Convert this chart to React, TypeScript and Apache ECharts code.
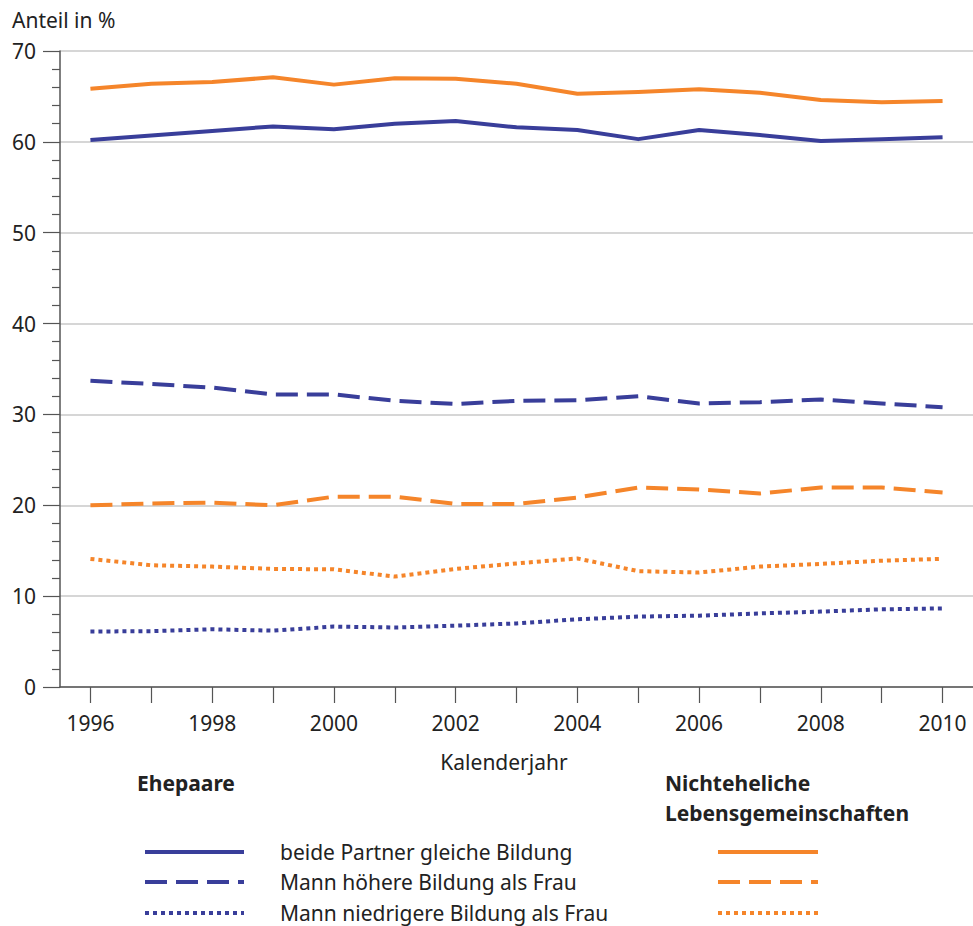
import React, { useEffect, useRef } from "react";
import * as echarts from "echarts";

const years = ["1996","1997","1998","1999","2000","2001","2002","2003","2004","2005","2006","2007","2008","2009","2010"];
const eheGleich = [60.2, 60.7, 61.2, 61.7, 61.4, 62.0, 62.3, 61.6, 61.3, 60.3, 61.3, 60.75, 60.1, 60.3, 60.5];
const eheHoeher = [33.7, 33.35, 32.95, 32.2, 32.2, 31.5, 31.15, 31.5, 31.55, 32.0, 31.2, 31.35, 31.65, 31.2, 30.8];
const eheNiedriger = [6.1, 6.15, 6.35, 6.2, 6.65, 6.55, 6.75, 7.0, 7.45, 7.75, 7.85, 8.1, 8.3, 8.55, 8.65];
const nelGleich = [65.85, 66.4, 66.6, 67.1, 66.3, 67.0, 66.95, 66.4, 65.3, 65.5, 65.8, 65.4, 64.6, 64.35, 64.5];
const nelHoeher = [20.0, 20.2, 20.3, 20.0, 20.95, 20.95, 20.15, 20.15, 20.85, 21.95, 21.75, 21.3, 21.95, 21.95, 21.4];
const nelNiedriger = [14.1, 13.4, 13.25, 13.0, 12.95, 12.15, 13.0, 13.6, 14.15, 12.75, 12.6, 13.25, 13.55, 13.9, 14.1];
const legendLabels = ["beide Partner gleiche Bildung", "Mann höhere Bildung als Frau", "Mann niedrigere Bildung als Frau"];

const BLUE = "#393e9a";
const ORANGE = "#f5852a";
const FONT = "'Noto Sans', 'Open Sans', sans-serif";
const FS = 21;
const DASH = [22, 9];
const DOT = [4, 4];

export default function App() {
  const ref = useRef<HTMLDivElement>(null);
  useEffect(() => {
    if (!ref.current) return;
    const chart = echarts.init(ref.current, null, { renderer: "svg" });
    const mk = (name: string, data: number[], color: string, dash: any) => ({
      name,
      type: "line",
      data,
      symbol: "none",
      lineStyle: { color, width: 4, type: dash, cap: "butt", join: "round" },
      z: 3,
    });
    const legendRows = [852, 882, 913];
    const dashes: any[] = [null, DASH, DOT];
    const graphics: any[] = [
      { type: "text", x: 12, y: 20, style: { text: "Anteil in %", font: `${FS}px ${FONT}`, fill: "#222", verticalAlign: "middle" } },
      { type: "text", x: 504, y: 762, style: { text: "Kalenderjahr", font: `${FS}px ${FONT}`, fill: "#222", align: "center", verticalAlign: "middle" } },
      { type: "text", x: 137, y: 783, style: { text: "Ehepaare", font: `bold ${FS}px ${FONT}`, fill: "#222", verticalAlign: "middle" } },
      { type: "text", x: 665, y: 783, style: { text: "Nichteheliche", font: `bold ${FS}px ${FONT}`, fill: "#222", verticalAlign: "middle" } },
      { type: "text", x: 665, y: 813, style: { text: "Lebensgemeinschaften", font: `bold ${FS}px ${FONT}`, fill: "#222", verticalAlign: "middle" } },
    ];
    legendRows.forEach((y, i) => {
      graphics.push({ type: "line", shape: { x1: 145, y1: y, x2: 244, y2: y }, style: { stroke: BLUE, lineWidth: 4, lineDash: dashes[i] || undefined } });
      graphics.push({ type: "line", shape: { x1: 718, y1: y, x2: 818, y2: y }, style: { stroke: ORANGE, lineWidth: 4, lineDash: dashes[i] || undefined } });
      graphics.push({ type: "text", x: 280, y, style: { text: legendLabels[i], font: `${FS}px ${FONT}`, fill: "#222", verticalAlign: "middle" } });
    });
    chart.setOption({
      animation: false,
      grid: { left: 60, right: 0, top: 51, bottom: 239, containLabel: false },
      xAxis: {
        type: "category",
        data: years,
        boundaryGap: true,
        axisLine: { lineStyle: { color: "#555", width: 1.5 } },
        axisTick: { show: true, alignWithLabel: true, interval: 0, length: 16, lineStyle: { color: "#555", width: 1.2 } },
        axisLabel: { interval: 1, margin: 25, fontSize: FS, color: "#222", fontFamily: FONT },
        splitLine: { show: false },
      },
      yAxis: {
        type: "value",
        min: 0,
        max: 70,
        interval: 10,
        axisLine: { show: true, lineStyle: { color: "#555", width: 1.5 } },
        axisTick: { show: true, length: 17, lineStyle: { color: "#555", width: 1.2 } },
        minorTick: { show: true, splitNumber: 5, length: 8, lineStyle: { color: "#555", width: 1.2 } },
        axisLabel: { margin: 24, fontSize: FS, color: "#222", fontFamily: FONT },
        splitLine: { show: true, lineStyle: { color: "#c8c8c8", width: 1.5 } },
      },
      series: [
        mk("Ehe gleich", eheGleich, BLUE, "solid"),
        mk("Ehe höher", eheHoeher, BLUE, DASH),
        mk("Ehe niedriger", eheNiedriger, BLUE, DOT),
        mk("NEL gleich", nelGleich, ORANGE, "solid"),
        mk("NEL höher", nelHoeher, ORANGE, DASH),
        mk("NEL niedriger", nelNiedriger, ORANGE, DOT),
      ],
      graphic: graphics,
    });
    return () => chart.dispose();
  }, []);
  return <div ref={ref} style={{ position: "absolute", left: 0, top: 0, width: 973, height: 926, background: "#fff" }} />;
}
